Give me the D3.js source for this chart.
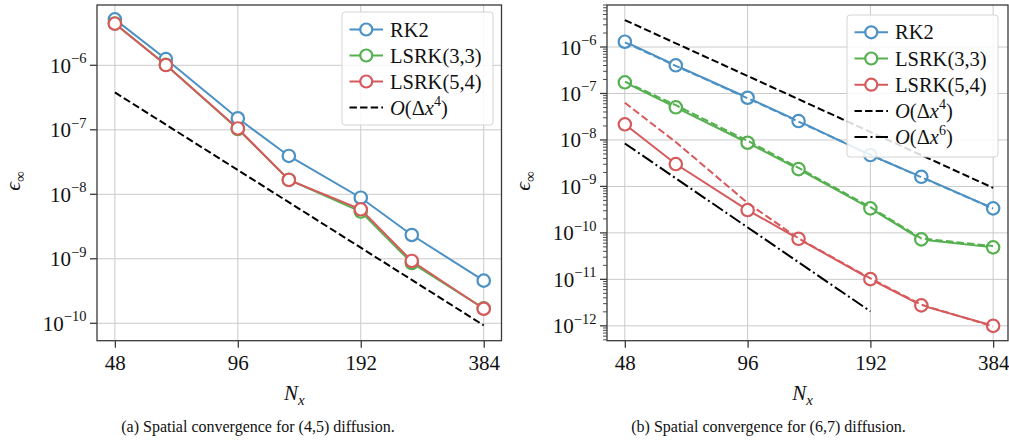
<!DOCTYPE html>
<html>
<head>
<meta charset="utf-8">
<script src="https://cdn.jsdelivr.net/npm/d3@7"></script>
<style>
  body { margin: 0; background: #fff; }
  svg, svg text { font-family: "Liberation Serif", "Times New Roman", Times, serif; }
  svg { display: block; }
</style>
</head>
<body>
<svg id="chart" width="1009" height="442"></svg>
<script>
// Grid resolutions
const Nx = [48, 64, 96, 128, 192, 256, 384];
const xTickValues = [48, 96, 192, 384];
const xTickLabels = ["48", "96", "192", "384"];

// (4,5) diffusion: max-norm error
const a_RK2     = [5.16e-6, 1.25e-6, 1.51e-7, 3.93e-8, 8.85e-9, 2.34e-9, 4.58e-10];
const a_LSRK33  = [4.45e-6, 1.02e-6, 1.03e-7, 1.68e-8, 5.40e-9, 8.60e-10, 1.70e-10];
const a_LSRK54  = [4.42e-6, 1.01e-6, 1.05e-7, 1.67e-8, 5.85e-9, 9.25e-10, 1.68e-10];
const a_refNx   = [48, 384];
const a_order4  = [3.8e-7, 9.3e-11];
const a_yTickExp = [-10, -9, -8, -7, -6];

// (6,7) diffusion: max-norm error (solid) and companion runs (dashed)
const b_RK2        = [1.30e-6, 4.04e-7, 8.10e-8, 2.55e-8, 4.73e-9, 1.61e-9, 3.37e-10];
const b_RK2_alt    = [1.26e-6, 3.92e-7, 7.90e-8, 2.48e-8, 4.80e-9, 1.58e-9, 3.35e-10];
const b_LSRK33     = [1.74e-7, 5.04e-8, 8.70e-9, 2.36e-9, 3.37e-10, 7.24e-11, 4.88e-11];
const b_LSRK33_alt = [1.80e-7, 5.60e-8, 9.60e-9, 2.50e-9, 3.60e-10, 7.60e-11, 5.20e-11];
const b_LSRK54     = [2.17e-8, 3.03e-9, 3.10e-10, 7.46e-11, 1.01e-11, 2.75e-12, 1.00e-12];
const b_LSRK54_alt = [6.30e-8, 9.00e-9, 4.40e-10, 7.60e-11, 1.05e-11, 2.85e-12, 0.97e-12];
const b_order4Nx   = [48, 384];
const b_order4     = [3.8e-6, 9.3e-10];
const b_order6Nx   = [48, 192];
const b_order6     = [8.4e-9, 2.05e-12];
const b_yTickExp   = [-12, -11, -10, -9, -8, -7, -6];

const BLUE = "#4b91c4", GREEN = "#55b04f", RED = "#d65a5c";
const FONT = "'Liberation Serif', 'Times New Roman', Times, serif";
const svg = d3.select("#chart").attr("font-family", FONT);

function drawPanel(p) {
  const x = d3.scaleLog().base(2).domain(p.xDomain).range([p.left, p.right]);
  const y = d3.scaleLog().domain(p.yDomain).range([p.bottom, p.top]);
  const g = svg.append("g");

  // grid
  g.selectAll("line.vgrid").data(xTickValues).join("line")
    .attr("x1", d => x(d)).attr("x2", d => x(d))
    .attr("y1", p.top).attr("y2", p.bottom)
    .attr("stroke", "#cacaca").attr("stroke-width", 1);
  g.selectAll("line.hgrid").data(p.yTickExp).join("line")
    .attr("x1", p.left).attr("x2", p.right)
    .attr("y1", d => y(Math.pow(10, d))).attr("y2", d => y(Math.pow(10, d)))
    .attr("stroke", "#cacaca").attr("stroke-width", 1);

  const clip = "clip" + p.id;
  svg.append("clipPath").attr("id", clip).append("rect")
    .attr("x", p.left).attr("y", p.top - 10)
    .attr("width", p.right - p.left + 10).attr("height", p.bottom - p.top + 10);
  const plot = g.append("g").attr("clip-path", `url(#${clip})`);

  const line = d3.line().x(d => x(d[0])).y(d => y(d[1]));

  // reference slopes
  p.refs.forEach(r => {
    plot.append("path").datum(d3.zip(r.nx, r.vals))
      .attr("d", line).attr("fill", "none")
      .attr("stroke", "#000").attr("stroke-width", 2)
      .attr("stroke-dasharray", r.dash);
  });

  // solid series with markers
  p.series.forEach(s => {
    const pts = d3.zip(Nx, s.vals);
    plot.append("path").datum(pts).attr("d", line)
      .attr("fill", "none").attr("stroke", s.color).attr("stroke-width", 2);
    plot.selectAll(null).data(pts).join("circle")
      .attr("cx", d => x(d[0])).attr("cy", d => y(d[1])).attr("r", 6.2)
      .attr("fill", "#fff").attr("stroke", s.color).attr("stroke-width", 2.2);
  });

  // dashed companion series
  (p.dashed || []).forEach(s => {
    plot.append("path").datum(d3.zip(Nx, s.vals)).attr("d", line)
      .attr("fill", "none").attr("stroke", s.color).attr("stroke-width", 2)
      .attr("stroke-dasharray", "7.4,3.2");
  });

  // frame
  g.append("rect").attr("x", p.left).attr("y", p.top)
    .attr("width", p.right - p.left).attr("height", p.bottom - p.top)
    .attr("fill", "none").attr("stroke", "#3a3a3a").attr("stroke-width", 1.3);

  // x axis ticks
  const xAxis = d3.axisBottom(x).tickValues(xTickValues)
    .tickFormat((d, i) => xTickLabels[i]).tickSize(7).tickSizeOuter(0).tickPadding(4);
  const xg = g.append("g").attr("transform", `translate(0,${p.bottom})`).call(xAxis)
    .attr("font-family", FONT).attr("font-size", 21);
  xg.select(".domain").remove();
  xg.selectAll(".tick line").attr("stroke", "#3a3a3a").attr("stroke-width", 1.3);
  xg.selectAll(".tick text").attr("fill", "#111").attr("dy", null).attr("y", 29.5);

  // y axis ticks (major, optional minor)
  const ticks = [];
  p.yTickExp.forEach(e => ticks.push({v: Math.pow(10, e), major: true, e}));
  if (p.minor) {
    for (let e = p.yTickExp[0] - 1; e <= p.yTickExp[p.yTickExp.length - 1]; e++) {
      for (let m = 2; m <= 9; m++) {
        const v = m * Math.pow(10, e);
        if (v >= p.yDomain[0] && v <= p.yDomain[1]) ticks.push({v, major: false});
      }
    }
  }
  g.selectAll(null).data(ticks).join("line")
    .attr("x1", d => p.left - (d.major ? 7 : 4)).attr("x2", p.left)
    .attr("y1", d => y(d.v)).attr("y2", d => y(d.v))
    .attr("stroke", "#3a3a3a").attr("stroke-width", d => d.major ? 1.3 : 0.9);
  g.selectAll(null).data(p.yTickExp).join("text")
    .attr("x", p.left - 10.5).attr("y", d => y(Math.pow(10, d)) + 7.5)
    .attr("text-anchor", "end").attr("font-size", 21).attr("fill", "#111")
    .each(function(d) {
      const t = d3.select(this);
      t.append("tspan").text("10");
      t.append("tspan").attr("dy", -9.5).attr("font-size", 14.5).text("\u2212" + Math.abs(d));
    });

  // axis labels
  const xl = g.append("text").attr("x", (p.left + p.right) / 2 - 5).attr("y", 400)
    .attr("font-size", 21).attr("fill", "#111").attr("text-anchor", "middle");
  xl.append("tspan").attr("font-style", "italic").text("N");
  xl.append("tspan").attr("font-style", "italic").attr("font-size", 15).attr("dy", 5).text("x");

  const yl = g.append("text")
    .attr("transform", `translate(${p.yLabelX},${(p.top + p.bottom) / 2 + 8}) rotate(-90)`)
    .attr("font-size", 22).attr("fill", "#111").attr("text-anchor", "middle");
  yl.append("tspan").attr("font-style", "italic").text("\u03f5");
  yl.append("tspan").attr("font-size", 15).attr("dy", 5).text("\u221e");

  // caption
  g.append("text").attr("x", p.captionX).attr("y", 432).attr("text-anchor", "middle")
    .attr("font-size", 16).attr("fill", "#111").text(p.caption);

  // legend
  const L = p.legend;
  const lg = g.append("g");
  lg.append("rect").attr("x", L.x).attr("y", L.y).attr("width", L.w).attr("height", L.h)
    .attr("rx", 3).attr("fill", "#fff").attr("fill-opacity", 0.85)
    .attr("stroke", "#d4d4d4").attr("stroke-width", 1);
  L.items.forEach((it, i) => {
    const cy = L.firstRow + i * L.rowStep;
    const x0 = L.x + 7.5, x1 = L.x + 41;
    lg.append("line").attr("x1", x0).attr("x2", x1).attr("y1", cy).attr("y2", cy)
      .attr("stroke", it.color).attr("stroke-width", 2)
      .attr("stroke-dasharray", it.dash || null);
    if (it.marker) {
      lg.append("circle").attr("cx", (x0 + x1) / 2).attr("cy", cy).attr("r", 6)
        .attr("fill", "#fff").attr("stroke", it.color).attr("stroke-width", 2.2);
    }
    const t = lg.append("text").attr("x", L.x + 48).attr("y", cy + 7)
      .attr("font-size", 20.5).attr("fill", "#111");
    if (it.order) {
      t.append("tspan").attr("font-style", "italic").text("O");
      t.append("tspan").text("(\u0394");
      t.append("tspan").attr("font-style", "italic").text("x");
      t.append("tspan").attr("font-size", 14).attr("dy", -9).text(it.order);
      t.append("tspan").attr("dy", 9).text(")");
    } else {
      t.text(it.label);
    }
  });
}

drawPanel({
  id: "a", left: 97, right: 501.5, top: 5, bottom: 340.7,
  xDomain: [43.4, 424.5], yDomain: [Math.pow(10, -10.27), Math.pow(10, -5.065)],
  yTickExp: a_yTickExp, minor: false, yLabelX: 20, captionX: 258,
  caption: "(a) Spatial convergence for (4,5) diffusion.",
  refs: [{nx: a_refNx, vals: a_order4, dash: "7.4,3.2"}],
  series: [
    {vals: a_RK2, color: BLUE},
    {vals: a_LSRK33, color: GREEN},
    {vals: a_LSRK54, color: RED}
  ],
  legend: {
    x: 342, y: 12, w: 151, h: 113, firstRow: 29.5, rowStep: 26,
    items: [
      {label: "RK2", color: BLUE, marker: true},
      {label: "LSRK(3,3)", color: GREEN, marker: true},
      {label: "LSRK(5,4)", color: RED, marker: true},
      {order: "4", color: "#000", dash: "7.4,3.2"}
    ]
  }
});

drawPanel({
  id: "b", left: 607, right: 1008, top: 5, bottom: 340.7,
  xDomain: [43.4, 417.6], yDomain: [Math.pow(10, -12.32), Math.pow(10, -5.096)],
  yTickExp: b_yTickExp, minor: true, yLabelX: 530, captionX: 768.5,
  caption: "(b) Spatial convergence for (6,7) diffusion.",
  refs: [
    {nx: b_order4Nx, vals: b_order4, dash: "7.4,3.2"},
    {nx: b_order6Nx, vals: b_order6, dash: "12.8,3.2,2,3.2"}
  ],
  series: [
    {vals: b_RK2, color: BLUE},
    {vals: b_LSRK33, color: GREEN},
    {vals: b_LSRK54, color: RED}
  ],
  dashed: [
    {vals: b_RK2_alt, color: BLUE},
    {vals: b_LSRK33_alt, color: GREEN},
    {vals: b_LSRK54_alt, color: RED}
  ],
  legend: {
    x: 847, y: 15, w: 151, h: 142, firstRow: 32.3, rowStep: 26.2,
    items: [
      {label: "RK2", color: BLUE, marker: true},
      {label: "LSRK(3,3)", color: GREEN, marker: true},
      {label: "LSRK(5,4)", color: RED, marker: true},
      {order: "4", color: "#000", dash: "7.4,3.2"},
      {order: "6", color: "#000", dash: "12.8,3.2,2,3.2"}
    ]
  }
});
</script>
</body>
</html>
